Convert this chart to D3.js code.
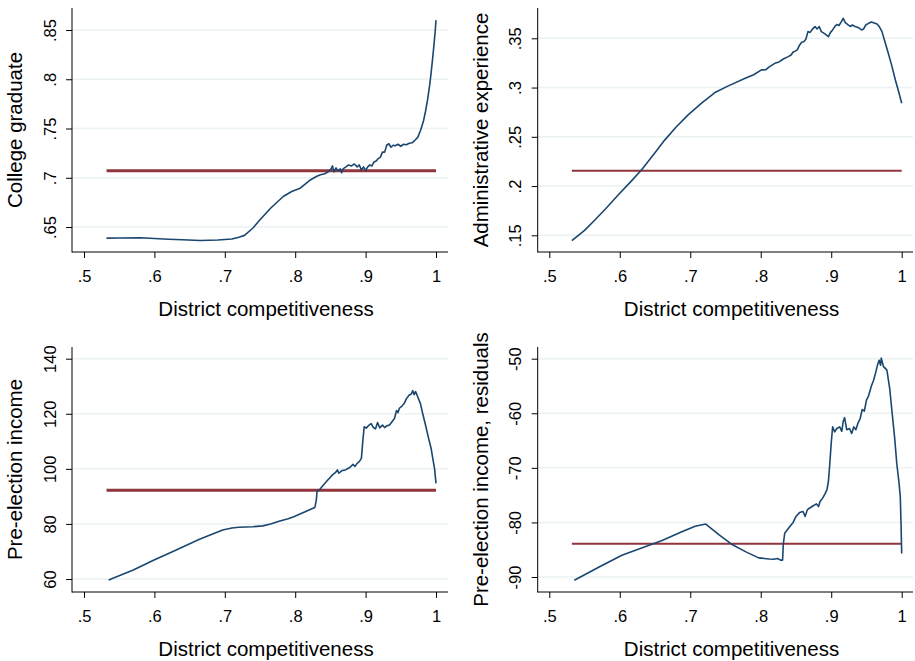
<!DOCTYPE html>
<html>
<head>
<meta charset="utf-8">
<script src="https://cdn.jsdelivr.net/npm/d3@7"></script>
<style>
  body { margin: 0; padding: 0; background: #fff; }
  svg { display: block; }
  text { font-family: "Liberation Sans", Arial, sans-serif; fill: #000; }
</style>
</head>
<body>
<script>
// x: district competitiveness, y: smoothed outcome
var collegeGrad = [[.532,.6387],[.55,.6388],[.58,.6391],[.60,.6383],[.62,.6375],[.64,.6370],[.665,.6363],[.69,.6368],[.71,.6378],[.72,.6395],[.728,.6415],[.74,.649],[.75,.6573],[.765,.669],[.783,.681],[.795,.686],[.807,.6894],[.815,.694],[.822,.698],[.830,.7012],[.836,.703],[.842,.704],[.848,.7065],[.851,.709],[.853,.712],[.855,.706],[.858,.710],[.861,.707],[.864,.709],[.866,.705],[.868,.709],[.872,.711],[.876,.713],[.88,.712],[.884,.714],[.888,.711],[.891,.713],[.894,.708],[.897,.711],[.900,.7075],[.903,.711],[.906,.713],[.909,.712],[.912,.716],[.915,.717],[.918,.7195],[.921,.721],[.924,.726],[.927,.726],[.930,.733],[.933,.7345],[.936,.731],[.939,.733],[.942,.7325],[.946,.734],[.950,.732],[.954,.734],[.958,.7335],[.962,.735],[.966,.7355],[.970,.738],[.974,.741],[.978,.748],[.982,.757],[.985,.767],[.988,.779],[.991,.794],[.993,.806],[.995,.8196],[.997,.834],[.999,.850],[1.0,.86]];

var adminExp = [[.532,.1446],[.55,.155],[.565,.1658],[.58,.177],[.598,.1911],[.615,.204],[.631,.2165],[.648,.232],[.664,.2469],[.68,.260],[.697,.2723],[.716,.2841],[.735,.2949],[.754,.3017],[.778,.3095],[.790,.313],[.801,.3179],[.807,.318],[.812,.321],[.820,.3246],[.826,.326],[.832,.329],[.839,.3314],[.843,.333],[.846,.336],[.849,.337],[.852,.3385],[.855,.343],[.858,.346],[.861,.3465],[.864,.349],[.867,.3568],[.87,.356],[.873,.359],[.877,.3619],[.880,.3595],[.883,.362],[.886,.3568],[.889,.3555],[.892,.354],[.896,.3517],[.899,.356],[.902,.3585],[.905,.3619],[.908,.364],[.911,.363],[.914,.3665],[.917,.3703],[.920,.366],[.924,.3636],[.927,.362],[.930,.3635],[.934,.3619],[.938,.361],[.943,.3585],[.946,.3595],[.949,.3635],[.953,.3652],[.957,.3665],[.961,.3655],[.965,.3645],[.968,.362],[.972,.3568],[.976,.347],[.981,.3348],[.986,.322],[.991,.3077],[.996,.295],[1.0,.2841]];

var preIncome = [[.535,59.6],[.570,63.3],[.598,66.7],[.631,70.5],[.664,74.4],[.697,77.8],[.710,78.5],[.720,78.8],[.740,79.0],[.754,79.3],[.765,80.0],[.777,81.0],[.790,81.9],[.798,82.6],[.806,83.5],[.815,84.5],[.822,85.3],[.828,86.0],[.830,88.7],[.831,91.7],[.835,92.6],[.838,93.5],[.845,95.6],[.853,97.8],[.857,98.6],[.860,99.6],[.862,98.4],[.866,99.3],[.872,99.7],[.878,100.6],[.882,101.6],[.885,100.9],[.888,102.0],[.891,102.6],[.894,103.8],[.896,110],[.898,115.3],[.901,114.8],[.905,115.9],[.908,116.4],[.911,115.0],[.914,114.5],[.917,116.8],[.920,114.9],[.924,115.9],[.927,115.0],[.930,115.6],[.934,115.9],[.938,117.3],[.941,118.3],[.944,121.2],[.946,120.4],[.948,122.0],[.952,122.9],[.955,123.8],[.958,125.5],[.962,126.8],[.965,127.2],[.967,128.4],[.969,126.9],[.971,128.1],[.974,126.2],[.978,123.6],[.981,120.2],[.985,116.0],[.990,110.5],[.993,107.5],[.995,104.4],[.998,100.0],[1.0,94.7]];

var incomeResid = [[.5355,-90.6],[.57,-88.2],[.603,-86.0],[.631,-84.7],[.66,-83.3],[.688,-81.7],[.707,-80.7],[.722,-80.3],[.741,-82.3],[.760,-84.1],[.779,-85.4],[.797,-86.5],[.805,-86.6],[.812,-86.7],[.818,-86.75],[.824,-86.6],[.828,-86.9],[.831,-86.9],[.832,-84],[.834,-82.0],[.841,-80.8],[.846,-80.0],[.850,-78.9],[.855,-78.2],[.860,-78.0],[.863,-78.9],[.866,-77.7],[.869,-77.4],[.874,-77.0],[.879,-76.6],[.882,-77.1],[.884,-76.2],[.888,-75.5],[.891,-74.8],[.894,-74.0],[.896,-72.5],[.898,-69.2],[.900,-65.5],[.902,-62.5],[.905,-63.4],[.908,-62.8],[.912,-62.5],[.915,-63.3],[.917,-61.5],[.919,-60.8],[.922,-63.0],[.926,-62.8],[.929,-63.7],[.932,-62.5],[.935,-63.0],[.938,-61.8],[.941,-61.0],[.944,-59.3],[.947,-59.6],[.950,-57.6],[.953,-56.8],[.957,-55.0],[.960,-54.0],[.963,-52.6],[.966,-51.0],[.968,-50.3],[.970,-51.2],[.971,-49.9],[.974,-51.4],[.979,-52.1],[.983,-55.5],[.986,-59.4],[.990,-64.5],[.993,-69.2],[.996,-72.5],[.998,-75.3],[.999,-80],[1.0,-85.7]];

// sample means (horizontal lines)
var meanValues = [.707, .2155, 92.2, -83.9];
var meanRange = [.532, 1.0];

var xTicks = [.5, .6, .7, .8, .9, 1];
var yTicks = [
    [.65, .7, .75, .8, .85],
    [.15, .2, .25, .3, .35],
    [60, 80, 100, 120, 140],
    [-90, -80, -70, -60, -50]
];
var yTitles = ["College graduate", "Administrative experience", "Pre-election income", "Pre-election income, residuals"];
var xTitle = "District competitiveness";
var seriesList = [collegeGrad, adminExp, preIncome, incomeResid];

var width = 915, height = 661;
var svg = d3.select("body").append("svg")
    .attr("width", width)
    .attr("height", height);

// layout of each panel (pixels)
var layout = [
    {ax: 72,    right: 448, top: 8,   bottom: 252, x0: 84,    x1: 436,   yLo: 227,   yHi: 30,    meanW: 3},
    {ax: 537.7, right: 913, top: 8,   bottom: 252, x0: 549.3, x1: 901.7, yLo: 235.3, yHi: 38.3,  meanW: 2},
    {ax: 72,    right: 448, top: 347, bottom: 592, x0: 84,    x1: 436,   yLo: 579,   yHi: 358.7, meanW: 3},
    {ax: 537.7, right: 913, top: 347, bottom: 592, x0: 549.3, x1: 901.7, yLo: 577,   yHi: 358.7, meanW: 2}
];

var blue = "#1a476f", maroon = "#90353b", gridCol = "#eaf2f3";
function fmt(d) { return String(d).replace(/^0\./, ".").replace(/^-0\./, "-."); }

for (var p = 0; p < 4; p++) {
    var L = layout[p];
    var ticks = yTicks[p];
    var x = d3.scaleLinear().domain([.5, 1]).range([L.x0, L.x1]);
    var y = d3.scaleLinear().domain([ticks[0], ticks[ticks.length - 1]]).range([L.yLo, L.yHi]);
    var g = svg.append("g");

    // gridlines
    g.selectAll("line.grid")
        .data(ticks)
        .enter()
        .append("line")
        .attr("class", "grid")
        .attr("x1", L.ax).attr("x2", L.right)
        .attr("y1", function(d){ return y(d); })
        .attr("y2", function(d){ return y(d); })
        .style("stroke", gridCol)
        .style("stroke-width", 1.5);

    // mean line
    g.append("line")
        .attr("x1", x(meanRange[0])).attr("x2", x(meanRange[1]))
        .attr("y1", y(meanValues[p])).attr("y2", y(meanValues[p]))
        .style("stroke", maroon)
        .style("stroke-width", L.meanW);

    // smoothed curve
    var line = d3.line()
        .x(function(d){ return x(d[0]); })
        .y(function(d){ return y(d[1]); });
    g.append("path")
        .datum(seriesList[p])
        .attr("d", line)
        .style("fill", "none")
        .style("stroke", blue)
        .style("stroke-width", 1.6)
        .style("stroke-linejoin", "round");

    // y axis
    var yAxis = g.append("g")
        .attr("transform", "translate(" + L.ax + ",0)")
        .call(d3.axisLeft(y).tickValues(ticks).tickFormat(fmt).tickSize(6).tickSizeOuter(0));
    yAxis.select(".domain").remove();
    yAxis.selectAll("text")
        .attr("transform", "rotate(-90)")
        .attr("x", 0).attr("y", -16.5).attr("dy", 0)
        .attr("text-anchor", "middle")
        .style("font-size", "16.5px");

    // x axis
    var xAxis = g.append("g")
        .attr("transform", "translate(0," + L.bottom + ")")
        .call(d3.axisBottom(x).tickValues(xTicks).tickFormat(fmt).tickSize(6).tickSizeOuter(0));
    xAxis.select(".domain").remove();
    xAxis.selectAll("text")
        .attr("y", 29.5).attr("dy", 0)
        .style("font-size", "16.5px");
    svg.selectAll(".tick line").style("stroke", "#000");

    // axis lines
    g.append("line")
        .attr("x1", L.ax).attr("x2", L.ax)
        .attr("y1", L.top).attr("y2", L.bottom + 0.5)
        .style("stroke", "#000").style("stroke-width", 1);
    g.append("line")
        .attr("x1", L.ax).attr("x2", L.right)
        .attr("y1", L.bottom).attr("y2", L.bottom)
        .style("stroke", "#000").style("stroke-width", 1);

    // titles
    g.append("text")
        .attr("x", (L.x0 + L.x1) / 2 + 6)
        .attr("y", L.bottom + 64)
        .attr("text-anchor", "middle")
        .style("font-size", "20.5px")
        .text(xTitle);
    g.append("text")
        .attr("transform", "translate(" + (L.ax - 50) + "," + ((L.top + L.bottom) / 2) + ") rotate(-90)")
        .attr("text-anchor", "middle")
        .style("font-size", "20.5px")
        .text(yTitles[p]);
}
</script>
</body>
</html>
